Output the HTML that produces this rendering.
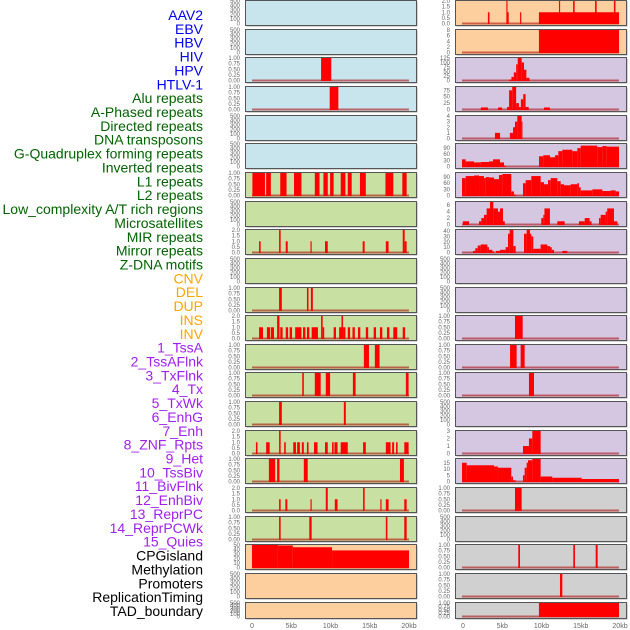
<!DOCTYPE html>
<html><head><meta charset="utf-8"><style>
body{margin:0;background:#fff;width:630px;height:630px;overflow:hidden}
svg{display:block;font-family:"Liberation Sans",sans-serif}
</style></head><body>
<svg id="chart" width="630" height="630" viewBox="0 0 630 630" xmlns="http://www.w3.org/2000/svg"></svg>
<script>
const labelNames = ["AAV2","EBV","HBV","HIV","HPV","HTLV-1","Alu repeats","A-Phased repeats","Directed repeats","DNA transposons","G-Quadruplex forming repeats","Inverted repeats","L1 repeats","L2 repeats","Low_complexity A/T rich regions","Microsatellites","MIR repeats","Mirror repeats","Z-DNA motifs","CNV","DEL","DUP","INS","INV","1_TssA","2_TssAFlnk","3_TxFlnk","4_Tx","5_TxWk","6_EnhG","7_Enh","8_ZNF_Rpts","9_Het","10_TssBiv","11_BivFlnk","12_EnhBiv","13_ReprPC","14_ReprPCWk","15_Quies","CPGisland","Methylation","Promoters","ReplicationTiming","TAD_boundary"];
const labelColors = ["#0000ee","#0000ee","#0000ee","#0000ee","#0000ee","#0000ee","#006400","#006400","#006400","#006400","#006400","#006400","#006400","#006400","#006400","#006400","#006400","#006400","#006400","#ffa500","#ffa500","#ffa500","#ffa500","#ffa500","#a020f0","#a020f0","#a020f0","#a020f0","#a020f0","#a020f0","#a020f0","#a020f0","#a020f0","#a020f0","#a020f0","#a020f0","#a020f0","#a020f0","#a020f0","#000","#000","#000","#000","#000"];
const xTickLabels = ["0","5kb","10kb","15kb","20kb"];
const xTickValues = [0,5,10,15,20];
const t500 = ["0","100","200","300","400","500"];
const t1 = ["0.00","0.25","0.50","0.75","1.00"];
const t2 = ["0.0","0.5","1.0","1.5","2.0"];
const t50 = ["0","10","20","30","40","50"];
const t8 = ["0","2","4","6","8"];
const t125 = ["0","25","50","75","100","125"];
const t75 = ["0","25","50","75"];
const t4 = ["0","1","2","3","4"];
const t90 = ["0","30","60","90"];
const t6 = ["0","2","4","6"];
const t40 = ["0","10","20","30","40"];
const t3 = ["0","1","2","3"];
const t15 = ["0","5","10","15"];
// left column tracks
const L0=[],L1=[],L4=[],L5=[],L7=[],L9=[],L20=[],L21=[];
const L2=[[8.8,10.1,1]];
const L3=[[9.9,11.0,1]];
const L6=[[0.05,1.65,1],[1.8,2.4,1],[3.6,4.4,1],[5.35,6.3,1],[8.0,8.6,1],[9.1,9.65,1],[9.95,10.4,1],[11.3,11.9,1],[12.2,12.7,1],[13.75,14.5,1],[17.0,18.0,1],[19.15,19.7,1]];
const L8=[[0.9,1.1,1],[3.45,3.65,2],[4.3,4.55,1],[7.45,7.6,1],[9.3,9.65,1],[14.1,14.35,1],[17.05,17.4,1],[19.2,19.45,2],[19.45,19.7,1]];
const L10=[[3.45,3.8,1],[7.0,7.2,1],[7.5,7.75,1]];
const L11=[[0.9,1.4,1],[1.9,2.3,1],[2.4,2.8,1],[3.2,3.5,2],[3.6,3.9,1],[4.3,4.6,1],[4.8,5.1,1],[5.5,6.3,1],[6.5,6.8,1],[7.0,7.3,1],[7.6,8.4,1],[8.8,9.0,2],[9.0,9.2,1],[10.4,10.7,1],[11.1,11.4,1],[11.4,11.6,2],[11.6,11.9,1],[12.2,12.5,1],[12.8,13.1,1],[13.5,13.8,1],[14.5,14.8,1],[15.5,15.8,1],[16.3,16.6,1],[17.2,17.5,1],[18.0,18.5,1],[19.2,19.5,1]];
const L12=[[14.25,14.9,1],[15.65,16.25,1]];
const L13=[[6.4,6.6,1],[8.0,8.75,1],[9.4,9.95,1],[12.85,13.2,1],[19.6,19.95,1]];
const L14=[[3.45,3.8,1],[11.7,11.95,1]];
const L15=[[0.5,0.7,1],[1.8,2.25,1],[3.45,3.65,2],[4.1,4.3,1],[5.25,5.6,1],[5.75,6.1,1],[6.35,6.6,1],[7.0,7.2,1],[7.9,8.35,1],[9.3,9.65,1],[10.2,10.4,1],[10.5,10.9,1],[11.3,12.2,1],[14.15,14.5,1],[17.05,17.65,1],[17.85,18.1,1],[18.35,18.55,1],[19.4,19.95,1]];
const L16=[[2.15,2.95,1],[3.2,3.5,1],[6.6,7.1,1],[18.85,19.35,1]];
const L17=[[3.45,3.65,1],[4.25,4.5,1],[7.45,7.6,1],[9.4,9.65,2],[10.55,10.9,1],[14.15,14.35,2],[16.35,16.5,1],[17.05,17.4,1],[19.4,19.7,1]];
const L18=[[3.45,3.65,1],[7.3,7.6,1],[17.05,17.25,1],[19.4,19.7,1]];
const L19=[[0,3.3,50],[3.3,5.2,49],[5.2,10.2,45],[10.2,20,38]];
// right column tracks
const R9=[],R10=[],R14=[],R18=[];
const R0=[[3.3,3.5,1],[5.65,5.8,2],[5.8,5.95,1],[7.4,7.55,1],[9.8,20,1],[12.35,12.5,2],[14.15,14.35,2],[16.95,17.15,2],[19.35,19.55,2]];
const R1=[[9.8,20,8]];
const R2=[[6.0,6.3,5],[6.3,6.6,20],[6.6,6.9,45],[6.9,7.1,90],[7.1,7.6,125],[7.6,7.9,100],[7.9,8.2,60],[8.2,8.6,15]];
const R3=[[2.4,3.3,8],[4.6,5.1,8],[5.75,6.0,10],[6.0,6.4,75],[6.4,6.9,88],[6.9,7.25,25],[7.25,7.5,10],[7.5,7.8,40],[7.8,8.1,60],[8.1,8.5,10],[10.45,11.2,8]];
const R4=[[4.2,4.85,1],[6.1,6.5,1],[6.5,6.75,2],[6.75,7.05,3],[7.05,7.6,4],[7.6,7.7,3]];
const R5=[[0,0.47,35],[0.47,1.53,25],[1.53,2.38,20],[2.38,3.44,22],[3.44,3.95,25],[3.95,4.84,35],[4.84,5.35,20],[5.35,5.56,5],[9.81,10.36,50],[10.36,11.21,55],[11.21,11.85,45],[11.85,12.27,55],[12.27,12.78,75],[12.78,14.05,82],[14.05,14.69,75],[14.69,15.12,90],[15.12,17.24,102],[17.24,17.88,95],[17.88,18.43,100],[18.43,20,97]];
const R6=[[0,0.47,85],[0.47,1.53,95],[1.53,2.17,98],[2.17,2.8,95],[2.8,3.02,85],[3.02,3.44,90],[3.44,4.08,88],[4.08,4.71,80],[4.71,5.14,100],[5.14,6.28,105],[6.28,6.62,20],[6.62,6.84,5],[7.77,8.11,60],[8.11,8.83,75],[8.83,10.02,95],[10.02,10.45,65],[10.45,10.96,55],[10.96,11.3,75],[11.3,12.14,85],[12.14,12.57,70],[12.57,12.99,55],[12.99,13.84,50],[13.84,14.69,55],[14.69,14.9,60],[14.9,15.12,40],[15.12,16.6,25],[16.6,17.88,30],[17.88,18.94,22],[18.94,19.58,25],[19.58,20,20]];
const R7=[[0.1,0.9,1],[2.17,2.46,1],[2.46,2.8,2],[2.8,3.14,3],[3.14,3.57,5],[3.57,3.99,7],[3.99,4.58,5],[4.58,4.84,4],[4.84,5.22,5],[5.22,5.45,1],[10.1,10.36,2],[10.36,10.5,3],[10.5,11.2,5],[12.14,13.08,1],[14.9,15.63,1],[15.63,16.26,2],[16.26,16.5,1],[17.45,17.67,2],[17.67,18.3,3],[18.3,18.5,4],[18.5,19.36,5],[19.36,19.79,1]];
const R8=[[1.4,1.7,3],[1.7,2.0,8],[2.0,2.38,13],[2.38,3.23,15],[3.23,3.44,10],[3.44,3.87,5],[3.87,4.08,2],[4.33,4.84,3],[4.84,5.56,5],[5.56,5.86,10],[5.86,6.07,35],[6.07,6.54,42],[6.54,6.84,12],[7.9,8.24,35],[8.24,8.66,42],[8.66,8.83,35],[8.83,9.08,30],[9.08,10.02,7],[10.02,10.87,15],[10.87,11.2,12],[11.2,11.43,10],[11.43,11.72,5],[12.78,13.42,3]];
const R11=[[6.75,7.73,1]];
const R12=[[6.12,6.96,1],[7.47,7.98,1]];
const R13=[[8.53,9.17,1]];
const R15=[[7.77,8.53,1],[8.53,8.96,2],[8.96,10.02,3]];
const R16=[[0,0.6,15],[0.6,4.08,13],[4.08,4.58,12],[4.58,6.28,11],[6.28,6.5,4],[6.5,6.84,1],[7.77,7.98,5],[7.98,8.24,11],[8.24,8.41,15],[8.41,8.96,17],[8.96,10.02,18],[10.02,11.5,4],[11.5,15.25,3],[15.25,20,2]];
const R17=[[6.75,7.6,1]];
const R19=[[7.17,7.39,1],[14.18,14.39,1],[17.03,17.28,1]];
const R20=[[12.48,12.78,1]];
const R21=[[9.8,20,1]];

const leftData=[L0,L1,L2,L3,L4,L5,L6,L7,L8,L9,L10,L11,L12,L13,L14,L15,L16,L17,L18,L19,L20,L21];
const rightData=[R0,R1,R2,R3,R4,R5,R6,R7,R8,R9,R10,R11,R12,R13,R14,R15,R16,R17,R18,R19,R20,R21];
const leftTicks=[t500,t500,t1,t1,t500,t500,t1,t500,t2,t500,t1,t2,t1,t1,t1,t2,t1,t2,t1,t50,t500,t500];
const rightTicks=[t2,t8,t125,t75,t4,t90,t90,t6,t40,t500,t500,t1,t1,t1,t500,t3,t15,t1,t500,t1,t1,t1];
const leftMax=[500,500,1,1,500,500,1,500,2,500,1,2,1,1,1,2,1,2,1,50,500,500];
const rightMax=[2,8,125,88,4,110,110,7,42,500,500,1,1,1,500,3,18,1,500,1,1,1];

const svg=document.getElementById('chart');
const NS='http://www.w3.org/2000/svg';
function mk(tag,attrs,parent){const e=document.createElementNS(NS,tag);for(const k in attrs)e.setAttribute(k,attrs[k]);(parent||svg).appendChild(e);return e;}
const leftBg=i=>i<6?'#c8e4ec':(i<19?'#c8e0a2':'#fecf9e');
const rightBg=i=>i<2?'#fecf9e':(i<17?'#d5c6e2':'#d0d0d0');
function rowTop(i){return Math.round(i*28.65);}
function rowH(i){return i===21?16:25;}

// labels
labelNames.forEach((n,i)=>{
  const t=mk('text',{x:203,y:20+i*13.86,'text-anchor':'end','font-size':14,fill:labelColors[i]});
  
  
  t.textContent=n;
});

function drawPanel(colX,tickX,i,data,ticks,ymax,bg,side){
  const top=rowTop(i),h=rowH(i),w=171;
  const g=mk('g',{});
  
  
  mk('rect',{x:colX+1.5,y:top+1.5,width:w,height:h,fill:'#aaa'},g);
  mk('rect',{x:colX+0.5,y:top+0.5,width:w,height:h,fill:bg,stroke:'#555','stroke-width':1},g);
  const x0=colX+7, kb=7.85;
  const xs=v=>x0+v*kb;
  const yb=top+h-1.5, yt=top+1;
  const ys=v=>yb-(v/ymax)*(yb-yt);
  const tickTop=ticks.length-1;
  const tmax=parseFloat(ticks[tickTop]);
  ticks.forEach((lab,k)=>{
    const v=parseFloat(lab);
    const ty=ys(v*ymax/ (ymax>tmax? ymax: tmax)*(ymax>tmax?1:1));
    const t=mk('text',{x:tickX,y:ys(v)+2,'text-anchor':'end','font-size':6,fill:'#666'},g);
    
    
    t.textContent=lab;
  });
  if(data.length){
    const bl=mk('line',{x1:xs(0),x2:xs(20),y1:yb,y2:yb,stroke:'rgba(170,0,0,0.55)','stroke-width':2},g);
    
    
  }
  data.forEach(d=>{
    const r=mk('rect',{x:xs(d[0]),y:ys(d[2]),width:Math.max(0.8,xs(d[1])-xs(d[0])),height:yb-ys(d[2])+0.5,fill:'#ff0000'},g);
    
    
  });
}
for(let i=0;i<22;i++){
  drawPanel(245,240,i,leftData[i],leftTicks[i],leftMax[i],leftBg(i),'left');
  drawPanel(455,450,i,rightData[i],rightTicks[i],rightMax[i],rightBg(i),'right');
}
[252,463].forEach(x0=>{
  xTickValues.forEach((v,k)=>{
    const t=mk('text',{x:x0+v*7.85,y:628,'text-anchor':'middle','font-size':7,fill:'#666'});
    
    
    t.textContent=xTickLabels[k];
  });
});
</script>
</body></html>
